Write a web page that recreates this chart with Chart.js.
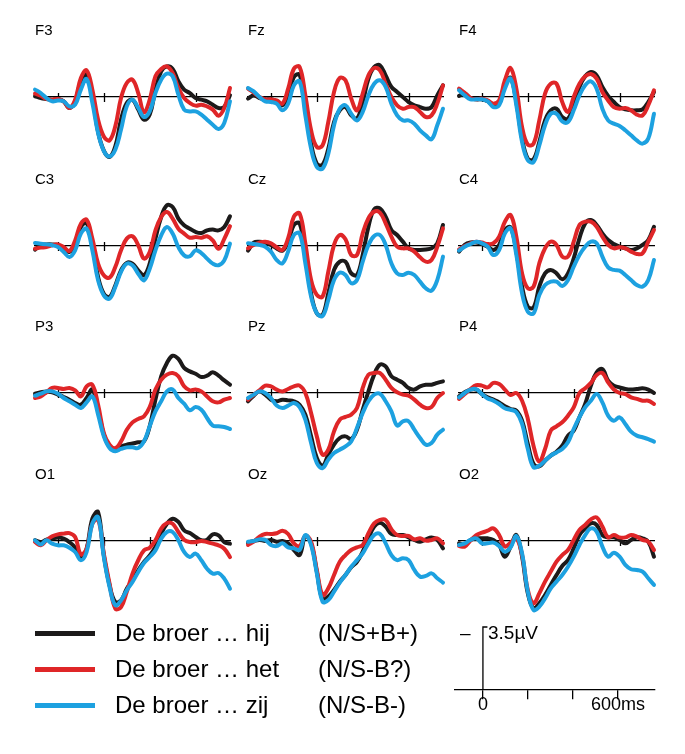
<!DOCTYPE html>
<html>
<head>
<meta charset="utf-8">
<script src="https://cdn.jsdelivr.net/npm/chart.js@4.4.1/dist/chart.umd.min.js"></script>
<style>
  body { margin: 0; background: #fff; }
  #fig { position: relative; width: 685px; height: 754px; overflow: hidden; font-family: 'Liberation Sans', Arial, sans-serif; color: #000; }
  #fig canvas { position: absolute; }
  .lbl { position: absolute; font-size: 15px; line-height: 15px; }
  .leg-line { position: absolute; left: 35px; width: 60px; height: 5px; }
  .leg-text { position: absolute; font-size: 24px; line-height: 26px; white-space: pre; }
  .sc-text { position: absolute; font-size: 19px; line-height: 20px; white-space: pre; }
</style>
</head>
<body>
<div id="fig"></div>
<script>
// time points (ms) and x-axis ticks
const times = [-100, -75, -50, -25, 0, 25, 50, 75, 100, 125, 150, 175, 200, 225, 250, 275, 300, 325,
  350, 375, 400, 425, 450, 475, 500, 525, 550, 575, 600, 625, 650, 675, 700, 725, 750];
const tickMs = [0, 200, 400, 600];

const conditions = ['De broer … hij', 'De broer … het', 'De broer … zij'];
const condCodes = ['(N/S+B+)', '(N/S-B?)', '(N/S-B-)'];
const condColors = ['#1c1a1a', '#df2628', '#1da1e0'];

const electrodes = ['F3', 'Fz', 'F4', 'C3', 'Cz', 'C4', 'P3', 'Pz', 'P4', 'O1', 'Oz', 'O2'];

// amplitudes in µV (negative plotted up)
const F3_hij = [-0.04, 0.06, 0.11, 0.15, 0.11, 0.24, 0.61, 0.24, -0.87, -1.24, -0.04, 1.94, 2.98, 3.33, 2.74, 1.26, 0.33, 0.15, 0.7, 1.26, 0.98, -0.41, -1.43, -1.7, -1.56, -0.87, -0.41, -0.22, 0.06, 0.15, 0.24, 0.43, 0.61, 0.55, -0.1];
const F3_het = [-0.19, -0.07, 0.11, 0.15, 0.11, 0.24, 0.61, 0.15, -1.06, -1.48, -0.41, 1.26, 2.19, 2.41, 1.63, 0.06, -0.78, -0.96, -0.22, 0.85, 0.15, -1.15, -1.56, -1.7, -1.33, -0.5, 0.06, 0.33, 0.48, 0.43, 0.52, 0.7, 1.04, 0.61, -0.5];
const F3_zij = [-0.41, -0.22, 0.06, 0.24, 0.2, 0.24, 0.52, 0.43, -0.41, -1.0, 0.33, 2.0, 3.0, 3.3, 2.93, 1.81, 0.52, 0.15, 0.61, 1.11, 0.8, -0.22, -0.96, -1.3, -1.15, -0.13, 0.7, 0.8, 0.8, 0.98, 1.26, 1.54, 1.78, 1.44, 0.24];

const Fz_hij = [0.09, -0.09, 0.06, 0.13, 0.13, 0.24, 0.46, -0.09, -1.11, -1.24, 0.46, 2.59, 3.7, 3.76, 2.87, 1.39, 0.74, 0.56, 1.02, 1.2, 0.28, -1.02, -1.67, -1.76, -1.2, -0.56, -0.28, 0, 0.28, 0.46, 0.56, 0.65, 0.56, -0.09, -0.65];
const Fz_het = [-0.46, -0.24, 0, 0.13, 0.13, 0.19, 0.37, -0.46, -1.57, -1.67, -0.09, 1.85, 2.78, 2.69, 1.39, -0.28, -1.06, -0.93, 0.09, 0.74, -0.19, -1.2, -1.61, -1.48, -0.74, 0, 0.46, 0.65, 0.56, 0.56, 0.83, 1.11, 1.02, 0.37, -0.65];
const Fz_zij = [-0.5, -0.31, 0, 0.24, 0.28, 0.37, 0.74, 0.37, -0.65, -0.87, 1.02, 2.87, 3.89, 3.98, 3.15, 1.57, 0.65, 0.46, 0.93, 1.3, 0.83, -0.09, -0.74, -0.93, -0.56, 0.37, 1.02, 1.3, 1.3, 1.48, 1.85, 2.13, 2.35, 1.57, 0.65];

const F4_hij = [-0.06, -0.19, 0.06, 0.13, 0.13, 0.24, 0.46, 0.28, -0.65, -1.06, 0.28, 2.31, 3.43, 3.46, 2.5, 1.3, 0.74, 0.65, 1.11, 1.2, 0.46, -0.56, -1.15, -1.39, -1.2, -0.56, -0.06, 0.28, 0.56, 0.69, 0.74, 0.74, 0.69, 0.28, -0.28];
const F4_het = [-0.46, -0.24, 0.06, 0.13, 0.09, 0.19, 0.37, 0.19, -0.93, -1.61, -0.46, 1.67, 2.65, 2.59, 1.3, -0.19, -0.74, -0.74, 0.28, 0.83, 0, -0.74, -1.15, -1.28, -1.02, -0.28, 0.19, 0.56, 0.65, 0.61, 0.74, 0.98, 1.02, 0.46, -0.37];
const F4_zij = [-0.37, -0.09, 0.13, 0.13, 0.13, 0.24, 0.56, 0.46, -0.46, -1.02, 0.46, 2.5, 3.52, 3.61, 2.69, 1.57, 0.93, 0.93, 1.35, 1.39, 0.74, -0.09, -0.65, -0.87, -0.46, 0.65, 1.3, 1.48, 1.61, 1.85, 2.13, 2.41, 2.59, 2.31, 0.93];

const C3_hij = [0.2, -0.04, -0.09, -0.09, -0.04, 0.15, 0.33, -0.13, -1.06, -1.28, -0.04, 1.72, 2.65, 2.83, 2.19, 1.35, 0.94, 0.98, 1.35, 1.63, 0.98, -0.41, -1.61, -2.26, -2.17, -1.52, -1.15, -0.96, -0.78, -0.72, -0.87, -0.91, -0.87, -1.06, -1.65];
const C3_het = [0.15, 0.09, 0.06, -0.04, -0.09, 0.06, 0.28, -0.31, -1.24, -1.46, -0.41, 0.98, 1.63, 1.76, 1.17, 0.24, -0.41, -0.54, -0.04, 0.7, 0.33, -0.87, -1.61, -1.89, -1.52, -0.96, -0.69, -0.46, -0.5, -0.46, -0.54, -0.31, 0.15, -0.4, -1.1];
const C3_zij = [-0.17, -0.13, -0.09, -0.04, 0.06, 0.33, 0.61, 0.24, -0.69, -0.96, 0.24, 1.91, 2.74, 2.93, 2.28, 1.44, 0.98, 1.07, 1.54, 1.91, 1.26, 0.24, -0.59, -1.06, -0.69, 0.06, 0.52, 0.57, 0.24, 0.39, 0.7, 0.98, 1.07, 0.8, -0.13];

const Cz_hij = [0.26, -0.19, -0.24, -0.19, -0.06, 0.13, 0.26, -0.24, -1.17, -1.26, 0.5, 2.63, 3.74, 3.83, 2.63, 1.33, 0.87, 0.87, 1.52, 1.61, 0.5, -1.07, -2.04, -2.09, -1.63, -0.89, -0.61, -0.24, 0.13, 0.22, 0.22, 0.19, 0.13, -0.15, -1.17];
const Cz_het = [0.13, -0.06, -0.19, -0.24, -0.15, 0.07, 0.22, -0.43, -1.63, -1.81, -0.15, 1.89, 2.72, 2.81, 1.43, -0.06, -0.61, -0.37, 0.5, 0.5, -0.7, -1.54, -1.91, -1.85, -1.26, -0.52, 0.04, 0.13, 0.13, 0.31, 0.63, 0.87, 0.78, 0.04, -0.98];
const Cz_zij = [-0.15, -0.11, -0.06, 0.04, 0.31, 0.78, 0.96, 0.31, -0.61, -0.7, 0.96, 2.81, 3.74, 3.89, 3.0, 1.89, 1.48, 1.61, 2.07, 1.89, 0.87, -0.06, -0.56, -0.61, -0.06, 0.96, 1.52, 1.61, 1.48, 1.61, 1.98, 2.35, 2.48, 1.89, 0.59];

const C4_hij = [0.31, -0.06, -0.19, -0.19, -0.11, 0.04, 0.22, -0.06, -0.89, -1.04, 0.31, 2.26, 3.37, 3.41, 2.26, 1.52, 1.33, 1.52, 1.85, 1.52, 0.69, -0.43, -1.26, -1.44, -1.17, -0.7, -0.33, -0.11, 0.04, 0.13, 0.22, 0.13, -0.06, -0.33, -1.07];
const C4_het = [0.19, 0, -0.15, -0.24, -0.19, -0.11, -0.15, -0.52, -1.35, -1.72, -0.52, 1.52, 2.35, 2.26, 0.96, 0.13, -0.24, -0.06, 0.59, 0.59, -0.24, -1.17, -1.35, -1.35, -1.07, -0.52, -0.06, 0.13, 0.07, 0.13, 0.31, 0.44, 0.41, -0.24, -0.89];
const C4_zij = [0.26, 0.04, -0.11, -0.24, -0.15, 0.04, 0.5, 0.22, -0.7, -0.98, 0.5, 2.63, 3.65, 3.74, 2.72, 2.17, 1.98, 1.98, 2.22, 1.89, 1.15, 0.5, 0.04, -0.24, -0.15, 0.59, 1.19, 1.33, 1.37, 1.61, 1.89, 2.17, 2.26, 1.89, 0.78];

const P3_hij = [0.04, -0.04, -0.09, -0.04, 0.09, 0.22, 0.37, 0.56, 0.65, 0.28, -0.19, 0.93, 2.31, 2.96, 3.11, 2.96, 2.87, 2.81, 2.74, 2.69, 1.85, 0.37, -0.93, -1.67, -2.07, -1.89, -1.39, -1.2, -1.07, -0.89, -0.96, -1.15, -0.96, -0.7, -0.46];
const P3_het = [0.28, 0.19, -0.04, -0.28, -0.28, -0.22, -0.28, -0.15, 0.19, -0.37, -0.46, 0.65, 2.22, 2.87, 3.06, 2.69, 2.04, 1.63, 1.44, 1.3, 0.78, -0.19, -0.74, -1.02, -1.11, -0.93, -0.37, -0.15, -0.19, -0.09, 0.19, 0.46, 0.52, 0.37, 0.28];
const P3_zij = [0.15, 0.04, -0.09, -0.09, 0.04, 0.28, 0.46, 0.65, 0.83, 0.52, 0.19, 1.2, 2.41, 3.06, 3.24, 3.11, 3.02, 3.02, 3.06, 2.69, 1.85, 1.02, 0.46, -0.09, -0.19, 0.28, 0.59, 0.96, 0.78, 0.93, 1.39, 1.81, 1.85, 1.89, 2.0];

const Pz_hij = [0.46, 0.15, -0.09, 0.09, 0.37, 0.46, 0.37, 0.41, 0.46, 0.65, 1.2, 2.41, 3.61, 4.04, 3.43, 2.87, 2.5, 2.41, 2.56, 2.04, 0.93, -0.09, -1.02, -1.57, -1.48, -0.93, -0.74, -0.56, -0.28, -0.19, -0.37, -0.46, -0.46, -0.56, -0.65];
const Pz_het = [0.37, 0.09, -0.15, -0.41, -0.37, -0.19, -0.09, -0.22, -0.37, -0.41, 0, 1.11, 2.41, 3.43, 3.15, 2.13, 1.48, 1.33, 1.2, 0.83, -0.28, -1.02, -1.11, -1.11, -0.74, -0.28, -0.04, 0.09, 0.15, 0.37, 0.65, 0.83, 0.78, 0.28, 0];
const Pz_zij = [0.28, 0.09, -0.09, 0, 0.28, 0.7, 0.83, 0.7, 0.56, 0.78, 1.48, 2.78, 3.89, 4.17, 3.7, 3.33, 3.15, 2.96, 2.69, 1.94, 1.11, 0.46, 0.09, 0.04, 0.46, 1.02, 1.81, 1.57, 1.57, 2.04, 2.5, 2.87, 2.78, 2.31, 2.04];

const P4_hij = [0.19, -0.04, -0.19, -0.19, 0.06, 0.24, 0.37, 0.52, 0.74, 0.89, 0.98, 1.54, 2.83, 3.94, 4.07, 3.76, 3.48, 3.26, 2.93, 2.37, 2.09, 1.35, 0.61, -0.41, -1.15, -1.33, -0.69, -0.41, -0.31, -0.22, -0.19, -0.22, -0.26, -0.19, 0];
const P4_het = [0.33, 0.06, -0.22, -0.44, -0.41, -0.31, -0.56, -0.5, -0.19, 0.11, 0, 0.43, 1.44, 2.94, 3.81, 3.11, 2.09, 1.85, 1.63, 1.26, 0.8, 0, -0.26, -0.56, -1.0, -1.11, -0.59, -0.19, 0, 0.06, 0.24, 0.33, 0.43, 0.43, 0.61];
const P4_zij = [0.24, 0, -0.19, -0.22, 0.06, 0.3, 0.43, 0.61, 0.85, 0.93, 1.07, 1.72, 3.11, 4.13, 4.04, 3.76, 3.48, 3.3, 3.11, 2.74, 2.0, 1.35, 0.8, 0.43, 0.06, 0.52, 1.26, 1.54, 1.35, 1.72, 2.15, 2.37, 2.46, 2.56, 2.7];

const O1_hij = [-0.04, 0.06, -0.07, -0.13, -0.19, -0.13, 0.06, 0.37, 0.98, 0.43, -1.24, -1.61, 0.8, 2.46, 3.39, 3.3, 2.65, 2.19, 1.63, 1.17, 0.8, 0.33, -0.41, -0.96, -1.24, -1.06, -0.59, -0.44, -0.22, -0.04, -0.07, -0.37, -0.31, 0.06, 0.15];
const O1_het = [0.06, 0.24, -0.04, -0.26, -0.37, -0.41, -0.44, -0.22, 0.74, 0.43, -0.96, -1.19, 0.7, 2.37, 3.76, 3.67, 2.83, 1.81, 1.07, 0.52, 0.37, -0.04, -0.69, -1.0, -0.96, -0.5, -0.07, 0.06, 0.06, 0, 0.06, 0.15, 0.24, 0.43, 0.89];
const O1_zij = [-0.04, 0.19, -0.04, 0.15, 0.24, 0.24, 0.37, 0.61, 1.07, 0.61, -0.96, -1.33, 0.89, 2.56, 3.57, 3.3, 2.74, 2.28, 1.72, 1.22, 0.89, 0.52, -0.13, -0.5, -0.5, -0.04, 0.61, 0.89, 0.7, 1.07, 1.54, 1.81, 1.78, 2.09, 2.65];

const Oz_hij = [0.09, 0, -0.06, 0, -0.06, 0.04, 0, 0.13, 0.5, 0.78, -0.28, 0.13, 1.7, 3.24, 3.09, 2.72, 2.26, 1.89, 1.46, 1.15, 0.59, -0.15, -0.8, -1.02, -0.8, -0.39, -0.33, -0.33, -0.2, -0.06, 0.04, -0.09, -0.2, -0.06, 0.41];
const Oz_het = [0.22, 0.04, -0.24, -0.39, -0.39, -0.43, -0.57, -0.39, 0.13, 0.28, -0.28, 0.04, 1.61, 3.0, 2.63, 1.89, 1.15, 0.78, 0.5, 0.35, 0.22, -0.43, -0.98, -1.17, -1.17, -0.65, -0.33, -0.28, -0.28, -0.09, -0.15, -0.02, -0.06, -0.15, 0.13];
const Oz_zij = [0.04, 0, -0.09, -0.06, 0.22, 0.28, 0.13, 0.35, 0.41, 0.5, -0.33, 0.22, 1.8, 3.37, 3.28, 2.81, 2.31, 1.89, 1.43, 1.06, 0.69, 0.13, -0.33, -0.39, 0.13, 0.78, 1.06, 0.96, 1.06, 1.61, 1.98, 1.94, 1.8, 2.07, 2.31];

const O2_hij = [0.13, 0.17, -0.06, -0.15, -0.15, -0.15, -0.06, 0.22, 0.87, 0.31, -0.33, 0.87, 2.91, 3.74, 3.46, 3.0, 2.44, 1.89, 1.39, 1.06, 0.41, -0.33, -0.7, -0.98, -0.89, -0.33, -0.2, -0.2, -0.06, 0.13, -0.06, -0.2, -0.15, 0.04, 0.87];
const O2_het = [0.28, 0.31, -0.02, -0.33, -0.46, -0.57, -0.7, -0.33, 0.31, 0.09, -0.15, 0.78, 2.72, 3.46, 2.91, 2.26, 1.7, 1.15, 0.78, 0.5, -0.06, -0.61, -0.89, -1.2, -1.31, -0.8, -0.2, -0.33, -0.2, -0.2, -0.33, -0.24, -0.06, 0.04, 0.5];
const O2_zij = [0.22, 0.13, -0.06, -0.15, 0.13, 0.13, 0.09, 0.28, 0.59, 0.35, -0.28, 0.69, 2.81, 3.83, 3.65, 3.19, 2.63, 2.26, 1.89, 1.43, 0.87, 0.22, -0.33, -0.7, -0.52, 0.31, 0.87, 0.65, 0.87, 1.33, 1.57, 1.61, 1.7, 2.07, 2.44];

// calibration bar
const scaleUv = 3.5;
const scaleLabels = { 0: '0', 600: '600ms' };

const waves = {
    F3: [F3_hij, F3_het, F3_zij], Fz: [Fz_hij, Fz_het, Fz_zij], F4: [F4_hij, F4_het, F4_zij],
    C3: [C3_hij, C3_het, C3_zij], Cz: [Cz_hij, Cz_het, Cz_zij], C4: [C4_hij, C4_het, C4_zij],
    P3: [P3_hij, P3_het, P3_zij], Pz: [Pz_hij, Pz_het, Pz_zij], P4: [P4_hij, P4_het, P4_zij],
    O1: [O1_hij, O1_het, O1_zij], Oz: [Oz_hij, Oz_het, Oz_zij], O2: [O2_hij, O2_het, O2_zij]
};

// layout
const colLeft = [35, 248, 459];
const rowBase = [97, 246, 393, 541];
const PAD = 8;
const AREA_W = 195;
const UV_TOP = -3, UV_BOTTOM = 5, PX_PER_UV = 18;
const FONT = "'Liberation Sans', Arial, sans-serif";

const fig = document.getElementById('fig');

// short tick marks that cross the zero line
const crossTicks = {
    id: 'crossTicks',
    beforeDatasetsDraw(chart, args, opts) {
        if (!opts || !opts.len) return;
        const {ctx, scales: {x, y}} = chart;
        const y0 = y.getPixelForValue(0);
        ctx.save();
        ctx.strokeStyle = '#000';
        ctx.lineWidth = 1.3;
        x.ticks.forEach(t => {
            const px = Math.round(x.getPixelForValue(t.value)) + 0.5;
            ctx.beginPath();
            ctx.moveTo(px, y0 - opts.len);
            ctx.lineTo(px, y0 + opts.len + 1);
            ctx.stroke();
        });
        ctx.restore();
    }
};
Chart.register(crossTicks);

function addCanvas(left, top, w, h) {
    const c = document.createElement('canvas');
    c.width = w;
    c.height = h;
    c.style.left = left + 'px';
    c.style.top = top + 'px';
    fig.appendChild(c);
    return c;
}

function addText(cls, text, left, top) {
    const d = document.createElement('div');
    d.className = cls;
    d.textContent = text;
    d.style.left = left + 'px';
    d.style.top = top + 'px';
    fig.appendChild(d);
    return d;
}

function drawPanel(name, idx) {
    const col = idx % 3, row = Math.floor(idx / 3);
    const base = rowBase[row];
    const areaH = (UV_BOTTOM - UV_TOP) * PX_PER_UV;
    const canvas = addCanvas(colLeft[col] - PAD, base + UV_TOP * PX_PER_UV - PAD, AREA_W + 2 * PAD, areaH + 2 * PAD);

    addText('lbl', name, colLeft[col], base - 75);

    const datasets = waves[name].map((vals, i) => ({
        label: conditions[i],
        data: times.map((t, k) => ({x: t, y: vals[k]})),
        borderColor: condColors[i],
        order: 2 - i,           // blue on top, black at the bottom
        clip: false
    }));

    return new Chart(canvas, {
        type: 'line',
        data: {datasets},
        options: {
            responsive: false,
            animation: false,
            events: [],
            layout: {padding: PAD},
            elements: {
                point: {radius: 0},
                line: {borderWidth: 4, tension: 0.4, fill: false, borderCapStyle: 'round', borderJoinStyle: 'round'}
            },
            plugins: {legend: {display: false}, tooltip: {enabled: false}, crossTicks: {len: 4}},
            scales: {
                x: {
                    type: 'linear', min: times[0], max: times[times.length - 1],
                    position: {y: 0},
                    afterBuildTicks: s => { s.ticks = tickMs.map(v => ({value: v})); },
                    ticks: {display: false},
                    grid: {drawOnChartArea: false, drawTicks: false},
                    border: {display: true, color: '#000', width: 1.3}
                },
                y: {type: 'linear', display: false, min: UV_TOP, max: UV_BOTTOM, reverse: true}
            }
        }
    });
}

electrodes.forEach((name, i) => drawPanel(name, i));

// legend
const legendY = [633, 669, 705];
conditions.forEach((txt, i) => {
    const ln = document.createElement('div');
    ln.className = 'leg-line';
    ln.style.top = (legendY[i] - 2.5) + 'px';
    ln.style.background = condColors[i];
    fig.appendChild(ln);
    addText('leg-text', txt, 115, legendY[i] - 13);
    addText('leg-text', condCodes[i], 318, legendY[i] - 13);
});

// calibration bar: 3.5 µV up (negative), time axis below
const scLeft = 455, scWidth = 200, scBase = 690;
const scTop = scBase - scaleUv * PX_PER_UV;
const scCanvas = addCanvas(scLeft - PAD, scTop - 10, scWidth + 2 * PAD, (scBase - scTop) + 10 + 34);
new Chart(scCanvas, {
    type: 'line',
    data: {
        datasets: [{
            data: [{x: 20, y: -scaleUv}, {x: 0, y: -scaleUv}, {x: 0, y: 0}],
            borderColor: '#000', borderWidth: 1.3, tension: 0, clip: false
        }]
    },
    options: {
        responsive: false,
        animation: false,
        events: [],
        layout: {padding: {left: PAD, right: PAD, top: 10, bottom: 34}},
        elements: {point: {radius: 0}},
        plugins: {legend: {display: false}, tooltip: {enabled: false}},
        scales: {
            x: {
                type: 'linear', min: -124, max: 764,
                position: {y: 0},
                afterBuildTicks: s => { s.ticks = tickMs.map(v => ({value: v})); },
                ticks: {
                    autoSkip: false, maxRotation: 0, padding: -5, color: '#000',
                    font: {family: FONT, size: 18},
                    callback: v => scaleLabels[v] || ''
                },
                grid: {drawOnChartArea: false, tickLength: 9, color: '#000', lineWidth: 1.3},
                border: {display: true, color: '#000', width: 1.3}
            },
            y: {type: 'linear', display: false, min: -scaleUv, max: 0, reverse: true}
        }
    }
});
addText('sc-text', '–', 460, 623);
addText('sc-text', scaleUv + 'µV', 488, 623);
</script>
</body>
</html>
